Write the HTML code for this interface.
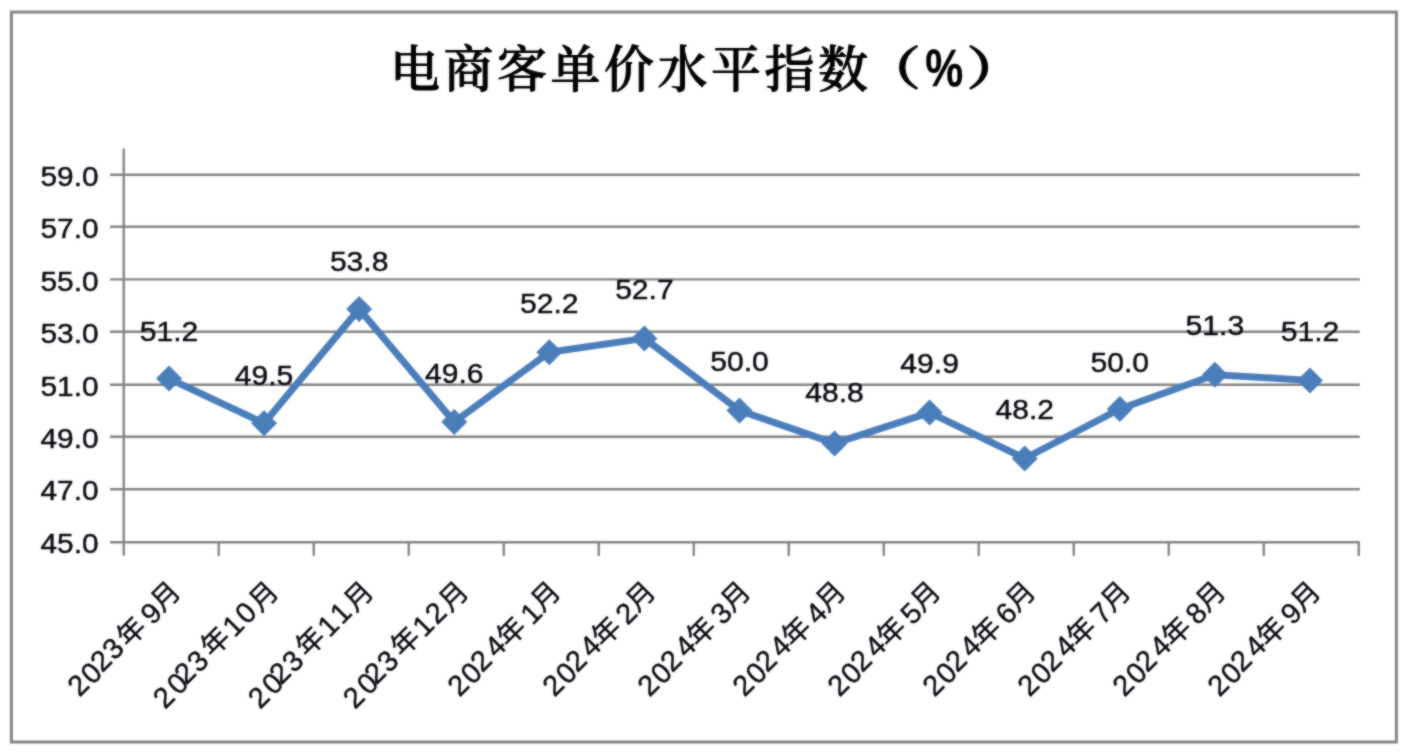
<!DOCTYPE html>
<html lang="zh-CN">
<head>
<meta charset="utf-8">
<title>电商客单价水平指数（%）</title>
<style>
html,body{margin:0;padding:0;background:#fff;}
body{width:1416px;height:756px;overflow:hidden;}
svg{display:block;}
.num{font-family:"Liberation Sans",sans-serif;font-size:28px;fill:#0a0a12;stroke:#0a0a12;stroke-width:0.45px;}
.cat{font-family:"Liberation Sans","Noto Sans CJK SC",sans-serif;font-size:29px;fill:#0a0a12;stroke:#0a0a12;stroke-width:0.4px;}
.cat .c{font-family:"Noto Sans CJK SC","Liberation Sans",sans-serif;font-size:28px;}
.title{font-family:"Noto Serif CJK SC","Liberation Serif",serif;font-weight:500;font-size:50px;fill:#000;stroke:#000;stroke-width:1px;stroke-linejoin:round;}
.title .p{font-size:46px;font-weight:600;}
.title .pc{font-family:"Liberation Sans",sans-serif;font-weight:bold;font-size:52px;stroke-width:0.3px;}
</style>
</head>
<body>
<svg width="1416" height="756" viewBox="0 0 1416 756">
<defs><filter id="soft" filterUnits="userSpaceOnUse" x="0" y="0" width="1416" height="756" color-interpolation-filters="sRGB"><feGaussianBlur in="SourceGraphic" stdDeviation="0.85" result="b"/><feComposite in="SourceGraphic" in2="b" operator="arithmetic" k1="0" k2="0.45" k3="0.55" k4="0"/></filter></defs>
<g filter="url(#soft)">
<rect x="0" y="0" width="1416" height="756" fill="#ffffff"/>
<rect x="11.40" y="12.10" width="1385.00" height="729.90" fill="#ffffff" stroke="#848484" stroke-width="3.0"/>
<text class="title" text-anchor="middle" y="86.50"><tspan x="415.00 468.50 522.00 575.50 629.00 682.50 736.00 789.50 843.00">电商客单价水平指数</tspan><tspan class="p" x="891.00" dy="-2.80" textLength="60.0" lengthAdjust="spacingAndGlyphs">（</tspan><tspan class="pc" x="944.30" dy="2.60" textLength="38.0" lengthAdjust="spacingAndGlyphs">%</tspan><tspan class="p" x="996.30" dy="-2.60" textLength="60.0" lengthAdjust="spacingAndGlyphs">）</tspan></text>
<g stroke="#848484" stroke-width="2.4" fill="none">
<line x1="110.00" y1="174.75" x2="1359.80" y2="174.75"/>
<line x1="110.00" y1="226.70" x2="1359.80" y2="226.70"/>
<line x1="110.00" y1="279.40" x2="1359.80" y2="279.40"/>
<line x1="110.00" y1="331.80" x2="1359.80" y2="331.80"/>
<line x1="110.00" y1="384.80" x2="1359.80" y2="384.80"/>
<line x1="110.00" y1="436.80" x2="1359.80" y2="436.80"/>
<line x1="110.00" y1="489.20" x2="1359.80" y2="489.20"/>
<line x1="110.00" y1="542.20" x2="1359.80" y2="542.20"/>
<line x1="123.75" y1="148.50" x2="123.75" y2="555.80"/>
<line x1="218.75" y1="542.60" x2="218.75" y2="555.80"/>
<line x1="313.75" y1="542.60" x2="313.75" y2="555.80"/>
<line x1="408.75" y1="542.60" x2="408.75" y2="555.80"/>
<line x1="503.75" y1="542.60" x2="503.75" y2="555.80"/>
<line x1="598.75" y1="542.60" x2="598.75" y2="555.80"/>
<line x1="693.75" y1="542.60" x2="693.75" y2="555.80"/>
<line x1="788.75" y1="542.60" x2="788.75" y2="555.80"/>
<line x1="883.75" y1="542.60" x2="883.75" y2="555.80"/>
<line x1="978.75" y1="542.60" x2="978.75" y2="555.80"/>
<line x1="1073.75" y1="542.60" x2="1073.75" y2="555.80"/>
<line x1="1168.75" y1="542.60" x2="1168.75" y2="555.80"/>
<line x1="1263.75" y1="542.60" x2="1263.75" y2="555.80"/>
<line x1="1358.75" y1="542.60" x2="1358.75" y2="555.80"/>
</g>
<g class="num" text-anchor="end">
<text x="98.5" y="185.95" textLength="58" lengthAdjust="spacingAndGlyphs">59.0</text>
<text x="98.5" y="237.90" textLength="58" lengthAdjust="spacingAndGlyphs">57.0</text>
<text x="98.5" y="290.60" textLength="58" lengthAdjust="spacingAndGlyphs">55.0</text>
<text x="98.5" y="343.00" textLength="58" lengthAdjust="spacingAndGlyphs">53.0</text>
<text x="98.5" y="396.00" textLength="58" lengthAdjust="spacingAndGlyphs">51.0</text>
<text x="98.5" y="448.00" textLength="58" lengthAdjust="spacingAndGlyphs">49.0</text>
<text x="98.5" y="500.40" textLength="58" lengthAdjust="spacingAndGlyphs">47.0</text>
<text x="98.5" y="553.40" textLength="58" lengthAdjust="spacingAndGlyphs">45.0</text>
</g>
<polyline fill="none" stroke="#4a7ebb" stroke-width="7" stroke-linejoin="round" stroke-linecap="round" points="169.00,378.60 264.08,423.30 359.16,309.00 454.24,422.00 549.32,352.20 644.40,338.40 739.48,410.50 834.56,443.40 929.64,412.60 1024.72,458.50 1119.80,409.00 1214.88,374.70 1309.96,380.40"/>
<g fill="#4a7ebb">
<path d="M169.00 365.60L182.00 378.60L169.00 391.60L156.00 378.60Z"/>
<path d="M264.08 410.30L277.08 423.30L264.08 436.30L251.08 423.30Z"/>
<path d="M359.16 296.00L372.16 309.00L359.16 322.00L346.16 309.00Z"/>
<path d="M454.24 409.00L467.24 422.00L454.24 435.00L441.24 422.00Z"/>
<path d="M549.32 339.20L562.32 352.20L549.32 365.20L536.32 352.20Z"/>
<path d="M644.40 325.40L657.40 338.40L644.40 351.40L631.40 338.40Z"/>
<path d="M739.48 397.50L752.48 410.50L739.48 423.50L726.48 410.50Z"/>
<path d="M834.56 430.40L847.56 443.40L834.56 456.40L821.56 443.40Z"/>
<path d="M929.64 399.60L942.64 412.60L929.64 425.60L916.64 412.60Z"/>
<path d="M1024.72 445.50L1037.72 458.50L1024.72 471.50L1011.72 458.50Z"/>
<path d="M1119.80 396.00L1132.80 409.00L1119.80 422.00L1106.80 409.00Z"/>
<path d="M1214.88 361.70L1227.88 374.70L1214.88 387.70L1201.88 374.70Z"/>
<path d="M1309.96 367.40L1322.96 380.40L1309.96 393.40L1296.96 380.40Z"/>
</g>
<g class="num" text-anchor="middle">
<text x="169.00" y="340.51" textLength="58.5" lengthAdjust="spacingAndGlyphs">51.2</text>
<text x="264.08" y="385.14" textLength="58.5" lengthAdjust="spacingAndGlyphs">49.5</text>
<text x="359.16" y="271.24" textLength="58.5" lengthAdjust="spacingAndGlyphs">53.8</text>
<text x="454.24" y="382.52" textLength="58.5" lengthAdjust="spacingAndGlyphs">49.6</text>
<text x="549.32" y="313.25" textLength="58.5" lengthAdjust="spacingAndGlyphs">52.2</text>
<text x="644.40" y="298.72" textLength="58.5" lengthAdjust="spacingAndGlyphs">52.7</text>
<text x="739.48" y="370.71" textLength="58.5" lengthAdjust="spacingAndGlyphs">50.0</text>
<text x="834.56" y="402.32" textLength="58.5" lengthAdjust="spacingAndGlyphs">48.8</text>
<text x="929.64" y="373.14" textLength="58.5" lengthAdjust="spacingAndGlyphs">49.9</text>
<text x="1024.72" y="419.28" textLength="58.5" lengthAdjust="spacingAndGlyphs">48.2</text>
<text x="1119.80" y="371.51" textLength="58.5" lengthAdjust="spacingAndGlyphs">50.0</text>
<text x="1214.88" y="335.48" textLength="58.5" lengthAdjust="spacingAndGlyphs">51.3</text>
<text x="1309.96" y="340.51" textLength="58.5" lengthAdjust="spacingAndGlyphs">51.2</text>
</g>
<g class="cat" text-anchor="middle">
<text transform="translate(172.46 603.21) rotate(-45)"><tspan x="-124.6 -107.0 -91.1 -74.1" y="1.1 1.8 0.0 0.0">2023</tspan><tspan class="c" x="-49.2" y="0.7">年</tspan><tspan x="-22.1" y="2.0">9</tspan><tspan class="c" x="0.0" y="0.0">月</tspan></text>
<text transform="translate(267.46 603.21) rotate(-45)"><tspan x="-139.8 -120.4 -107.6 -90.2" y="3.0 3.0 0.8 1.5">2023</tspan><tspan class="c" x="-64.2" y="0.0">年</tspan><tspan x="-40.0 -22.1" y="1.5 1.3">10</tspan><tspan class="c" x="2.1" y="2.1">月</tspan></text>
<text transform="translate(362.46 603.21) rotate(-45)"><tspan x="-139.8 -120.4 -107.6 -90.2" y="3.0 3.0 0.8 1.5">2023</tspan><tspan class="c" x="-64.2" y="0.0">年</tspan><tspan x="-40.0 -22.1" y="1.5 1.3">11</tspan><tspan class="c" x="2.1" y="2.1">月</tspan></text>
<text transform="translate(457.46 603.21) rotate(-45)"><tspan x="-139.8 -120.4 -107.6 -90.2" y="3.0 3.0 0.8 1.5">2023</tspan><tspan class="c" x="-64.2" y="0.0">年</tspan><tspan x="-40.0 -22.1" y="1.5 1.3">12</tspan><tspan class="c" x="2.1" y="2.1">月</tspan></text>
<text transform="translate(552.46 603.21) rotate(-45)"><tspan x="-124.6 -107.0 -91.1 -71.0" y="1.1 1.8 0.0 0.0">2024</tspan><tspan class="c" x="-49.2" y="0.7">年</tspan><tspan x="-22.1" y="2.0">1</tspan><tspan class="c" x="0.0" y="0.0">月</tspan></text>
<text transform="translate(647.46 603.21) rotate(-45)"><tspan x="-124.6 -107.0 -91.1 -71.0" y="1.1 1.8 0.0 0.0">2024</tspan><tspan class="c" x="-49.2" y="0.7">年</tspan><tspan x="-22.1" y="2.0">2</tspan><tspan class="c" x="0.0" y="0.0">月</tspan></text>
<text transform="translate(742.46 603.21) rotate(-45)"><tspan x="-124.6 -107.0 -91.1 -71.0" y="1.1 1.8 0.0 0.0">2024</tspan><tspan class="c" x="-49.2" y="0.7">年</tspan><tspan x="-22.1" y="2.0">3</tspan><tspan class="c" x="0.0" y="0.0">月</tspan></text>
<text transform="translate(837.46 603.21) rotate(-45)"><tspan x="-124.6 -107.0 -91.1 -71.0" y="1.1 1.8 0.0 0.0">2024</tspan><tspan class="c" x="-49.2" y="0.7">年</tspan><tspan x="-22.1" y="2.0">4</tspan><tspan class="c" x="0.0" y="0.0">月</tspan></text>
<text transform="translate(932.46 603.21) rotate(-45)"><tspan x="-124.6 -107.0 -91.1 -71.0" y="1.1 1.8 0.0 0.0">2024</tspan><tspan class="c" x="-49.2" y="0.7">年</tspan><tspan x="-22.1" y="2.0">5</tspan><tspan class="c" x="0.0" y="0.0">月</tspan></text>
<text transform="translate(1027.46 603.21) rotate(-45)"><tspan x="-124.6 -107.0 -91.1 -71.0" y="1.1 1.8 0.0 0.0">2024</tspan><tspan class="c" x="-49.2" y="0.7">年</tspan><tspan x="-22.1" y="2.0">6</tspan><tspan class="c" x="0.0" y="0.0">月</tspan></text>
<text transform="translate(1122.46 603.21) rotate(-45)"><tspan x="-124.6 -107.0 -91.1 -71.0" y="1.1 1.8 0.0 0.0">2024</tspan><tspan class="c" x="-49.2" y="0.7">年</tspan><tspan x="-22.1" y="2.0">7</tspan><tspan class="c" x="0.0" y="0.0">月</tspan></text>
<text transform="translate(1217.46 603.21) rotate(-45)"><tspan x="-124.6 -107.0 -91.1 -71.0" y="1.1 1.8 0.0 0.0">2024</tspan><tspan class="c" x="-49.2" y="0.7">年</tspan><tspan x="-22.1" y="2.0">8</tspan><tspan class="c" x="0.0" y="0.0">月</tspan></text>
<text transform="translate(1312.46 603.21) rotate(-45)"><tspan x="-124.6 -107.0 -91.1 -71.0" y="1.1 1.8 0.0 0.0">2024</tspan><tspan class="c" x="-49.2" y="0.7">年</tspan><tspan x="-22.1" y="2.0">9</tspan><tspan class="c" x="0.0" y="0.0">月</tspan></text>
</g>
</g>
</svg>
</body>
</html>
